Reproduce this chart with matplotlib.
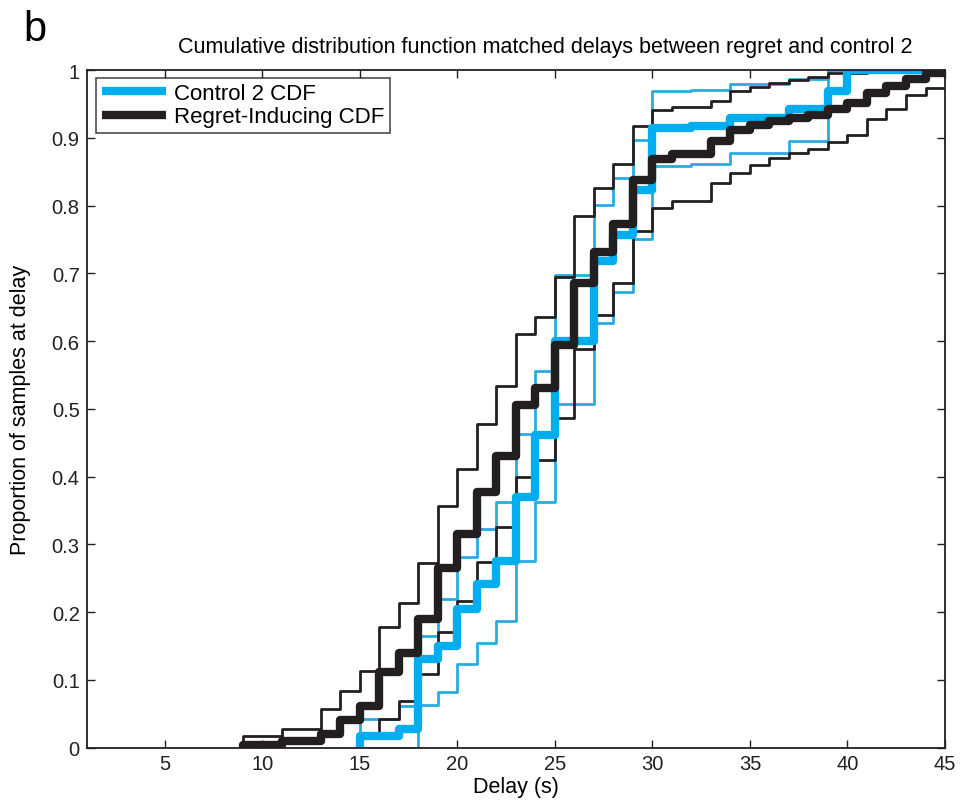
import numpy as np
import matplotlib
matplotlib.use("Agg")
from matplotlib import pyplot as plt

plt.rcParams['font.family'] = ['Liberation Sans', 'DejaVu Sans']

# ___DATA___ #
# delay (s) where each step starts, and the CDF value after the step
control_x = [15, 17, 18, 19, 20, 21, 22, 23, 24, 25, 27, 28, 29, 30, 32, 34, 37, 39, 40]
control_y = [0.017, 0.028, 0.131, 0.150, 0.205, 0.242, 0.276, 0.370, 0.461, 0.600,
             0.718, 0.757, 0.823, 0.915, 0.918, 0.929, 0.942, 0.969, 1.0]

control_hi_x = [15, 17, 18, 19, 20, 21, 22, 23, 24, 25, 27, 28, 29, 30, 32, 34, 37, 39]
control_hi_y = [0.042, 0.062, 0.165, 0.219, 0.281, 0.323, 0.362, 0.463, 0.556, 0.698,
                0.801, 0.841, 0.897, 0.969, 0.971, 0.980, 0.987, 1.0]

control_lo_x = [15, 18, 19, 20, 21, 22, 23, 24, 25, 27, 28, 29, 30, 32, 34, 37, 39]
control_lo_y = [0.0, 0.0625, 0.0815, 0.123, 0.155, 0.187, 0.276, 0.362, 0.507,
                0.627, 0.673, 0.750, 0.858, 0.861, 0.877, 0.896, 1.0]

regret_x = [9, 11, 13, 14, 15, 16, 17, 18, 19, 20, 21, 22, 23, 24, 25, 26, 27, 28, 29,
            30, 31, 33, 34, 35, 36, 37, 38, 39, 40, 41, 42, 43, 44]
regret_y = [0.004, 0.009, 0.020, 0.040, 0.062, 0.111, 0.140, 0.190, 0.265, 0.315,
            0.377, 0.430, 0.505, 0.530, 0.594, 0.686, 0.732, 0.773, 0.838, 0.868,
            0.876, 0.896, 0.911, 0.919, 0.925, 0.929, 0.934, 0.943, 0.951, 0.966,
            0.976, 0.987, 0.995]

regret_hi_x = [9, 11, 13, 14, 15, 16, 17, 18, 19, 20, 21, 22, 23, 24, 25, 26, 27, 28,
               29, 30, 31, 33, 34, 35, 36, 37, 38, 39, 41]
regret_hi_y = [0.017, 0.027, 0.057, 0.084, 0.113, 0.178, 0.213, 0.273, 0.356, 0.411,
               0.478, 0.533, 0.610, 0.635, 0.695, 0.785, 0.826, 0.861, 0.917, 0.941,
               0.946, 0.955, 0.969, 0.975, 0.981, 0.985, 0.990, 0.996, 1.0]

regret_lo_x = [15, 16, 17, 18, 19, 20, 21, 22, 23, 24, 25, 26, 27, 28, 29, 30, 31, 33,
               34, 35, 36, 37, 38, 39, 40, 41, 42, 43, 44]
regret_lo_y = [0.015, 0.042, 0.068, 0.109, 0.170, 0.217, 0.274, 0.325, 0.399, 0.424,
               0.486, 0.589, 0.639, 0.686, 0.762, 0.796, 0.807, 0.833, 0.848, 0.860,
               0.870, 0.877, 0.884, 0.894, 0.904, 0.928, 0.943, 0.963, 0.973]

x_ticks = [5, 10, 15, 20, 25, 30, 35, 40, 45]
y_ticks = [0, 0.1, 0.2, 0.3, 0.4, 0.5, 0.6, 0.7, 0.8, 0.9, 1]
y_tick_labels = ["0", "0.1", "0.2", "0.3", "0.4", "0.5", "0.6", "0.7", "0.8", "0.9", "1"]

x_min, x_max = 1, 45
blue = "#00aeef"
thin_blue = "#29abe2"
black = "#231f20"


# Stairs like MATLAB: start from zero at the first delay, run out to the right edge.
def stairs(ax, xs, ys, **kw):
    xs = np.r_[xs[0], xs, x_max]
    ys = np.r_[0, ys, ys[-1]]
    return ax.step(xs, ys, where="post", solid_joinstyle="round",
                   solid_capstyle="butt", **kw)


fig = plt.figure(figsize=(9.64, 8.04), dpi=100)
ax = fig.add_axes([0.0899, 0.069, 0.8904, 0.8426])

stairs(ax, control_hi_x, control_hi_y, color=thin_blue, lw=2.0)
stairs(ax, control_lo_x, control_lo_y, color=thin_blue, lw=2.0)
stairs(ax, regret_hi_x, regret_hi_y, color=black, lw=2.0)
stairs(ax, regret_lo_x, regret_lo_y, color=black, lw=2.0)
stairs(ax, control_x, control_y, color=blue, lw=6.0, label="Control 2 CDF")
stairs(ax, regret_x, regret_y, color=black, lw=6.0, label="Regret-Inducing CDF")

ax.set_xlim(x_min, x_max)
ax.set_ylim(0, 1)
ax.set_xticks(x_ticks)
ax.set_yticks(y_ticks)
ax.set_yticklabels(y_tick_labels)
ax.tick_params(direction="in", length=6, width=1, top=True, right=True,
               labelsize=14.5, colors=black, pad=5)
for s in ax.spines.values():
    s.set_linewidth(1.3)
    s.set_color(black)

ax.set_xlabel("Delay (s)", fontsize=15.5, labelpad=2)
ax.set_ylabel("Proportion of samples at delay", fontsize=15.5, labelpad=15)

leg = ax.legend(loc="upper left", bbox_to_anchor=(0.011, 0.989), borderaxespad=0,
                fontsize=16, frameon=True, fancybox=False, handlelength=2.9,
                handletextpad=0.35, borderpad=0.25, labelspacing=0.1)
leg.get_frame().set_edgecolor(black)
leg.get_frame().set_linewidth(1.2)

fig.text(0.566, (804 - 47) / 804, "Cumulative distribution function matched delays between regret and control 2",
         ha="center", va="center", fontsize=15.5)
fig.text(0.036, (804 - 30) / 804, "b", ha="center", va="center", fontsize=30)

fig.savefig("out.png", dpi=100)
